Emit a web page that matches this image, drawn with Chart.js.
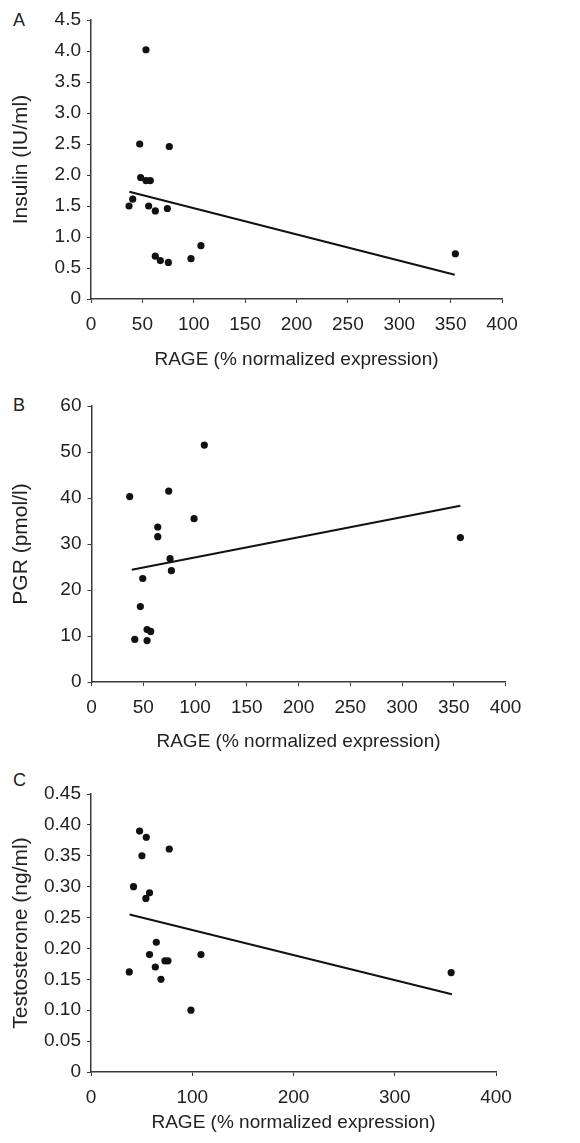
<!DOCTYPE html>
<html>
<head>
<meta charset="utf-8">
<script src="https://cdn.jsdelivr.net/npm/chart.js@4.4.1/dist/chart.umd.min.js"></script>
<style>
  html, body { margin: 0; padding: 0; background: #fff; overflow: hidden; }
  body { width: 580px; height: 1143px; position: relative; font-family: "Liberation Sans", Arial, sans-serif; }
  canvas { position: absolute; left: 0; }
  .panel-label { position: absolute; left: 13px; font-size: 18px; line-height: 18px; color: #222; }
</style>
</head>
<body>
<div class="panel-label" style="top:10.5px">A</div>
<div class="panel-label" style="top:395.5px">B</div>
<div class="panel-label" style="top:770.5px">C</div>
<canvas id="chartA" width="580" height="380" style="top:0px"></canvas>
<canvas id="chartB" width="580" height="380" style="top:380px"></canvas>
<canvas id="chartC" width="580" height="383" style="top:760px"></canvas>
<script>
// Panel A - insulin
const rageA = [37, 40.6, 47.4, 48.3, 53.5, 53.5, 56.1, 57.7, 62.6, 62.6, 67.5, 74.3, 75.3, 76.2, 97.3, 107, 354.6];
const insulin = [1.50, 1.61, 2.50, 1.96, 4.02, 1.91, 1.50, 1.91, 1.42, 0.69, 0.62, 1.46, 0.59, 2.46, 0.65, 0.86, 0.73];
const fitA_x = [37.3, 354];
const fitA_y = [1.73, 0.39];

// Panel B - PGR
const rageB = [36.9, 41.8, 47.2, 49.5, 53.7, 53.7, 57.2, 64, 64, 74.6, 75.9, 77.2, 99.1, 109, 356.4];
const pgr = [40.3, 9.25, 16.4, 22.5, 11.4, 9.0, 11.0, 33.7, 31.6, 41.5, 26.8, 24.2, 35.5, 51.5, 31.4];
const fitB_x = [38.9, 356.4];
const fitB_y = [24.4, 38.3];

// Panel C - testosterone
const rageC = [37.8, 42, 48, 50.3, 54.2, 54.6, 57.8, 57.8, 63.5, 64.5, 69.1, 73, 76, 77.3, 98.7, 108.6, 355.7];
const testosterone = [0.162, 0.30, 0.39, 0.35, 0.281, 0.38, 0.29, 0.19, 0.17, 0.21, 0.15, 0.18, 0.18, 0.361, 0.10, 0.19, 0.161];
const fitC_x = [38.1, 356.4];
const fitC_y = [0.255, 0.126];

const xTitle = "RAGE (% normalized expression)";

function toPoints(xs, ys) {
  return xs.map((x, i) => ({ x: x, y: ys[i] }));
}

function makeChart(id, opts) {
  const ctx = document.getElementById(id).getContext("2d");
  const axisColor = "#3a3a3a";
  return new Chart(ctx, {
    type: "scatter",
    data: {
      datasets: [{
        data: toPoints(opts.xs, opts.ys),
        backgroundColor: "#111",
        borderColor: "#111",
        pointRadius: 3.6,
        pointBorderWidth: 0
      }, {
        data: toPoints(opts.fitX, opts.fitY),
        showLine: true,
        borderColor: "#111",
        borderWidth: 2,
        pointRadius: 0,
        fill: false
      }]
    },
    options: {
      responsive: false,
      animation: false,
      events: [],
      layout: { padding: { top: opts.top, right: opts.right, left: 0, bottom: 0 } },
      plugins: { legend: { display: false }, tooltip: { enabled: false } },
      scales: {
        x: {
          type: "linear",
          min: 0, max: 400,
          ticks: { stepSize: opts.xStep, color: "#222", font: { family: "Liberation Sans", size: 19 }, padding: 10, maxRotation: 0 },
          grid: { drawOnChartArea: false, drawTicks: true, tickLength: 4, color: axisColor, lineWidth: 1 },
          border: { display: true, color: axisColor, width: 1.5 },
          title: { display: true, text: xTitle, color: "#222", font: { family: "Liberation Sans", size: 19 }, padding: { top: 0, bottom: opts.xTitlePad } },
          afterFit: function (scale) { scale.height = opts.axisH; }
        },
        y: {
          type: "linear",
          min: 0, max: opts.yMax,
          ticks: {
            stepSize: opts.yStep, color: "#222", font: { family: "Liberation Sans", size: 19 }, padding: 6,
            callback: function (v) { return v === 0 ? "0" : v.toFixed(opts.dec); }
          },
          grid: { drawOnChartArea: false, drawTicks: true, tickLength: 4, color: axisColor, lineWidth: 1 },
          border: { display: true, color: axisColor, width: 1.5 },
          title: { display: true, text: opts.yTitle, color: "#222", font: { family: "Liberation Sans", size: 21 }, padding: { top: 9, bottom: 0 } },
          afterFit: function (scale) { scale.width = opts.left; }
        }
      }
    }
  });
}

makeChart("chartA", {
  xs: rageA, ys: insulin, fitX: fitA_x, fitY: fitA_y,
  yMax: 4.5, yStep: 0.5, dec: 1, xStep: 50, yTitle: "Insulin (IU/ml)",
  top: 20, right: 78, left: 91, axisH: 81, xTitlePad: 8.6
});
makeChart("chartB", {
  xs: rageB, ys: pgr, fitX: fitB_x, fitY: fitB_y,
  yMax: 60, yStep: 10, dec: 0, xStep: 50, yTitle: "PGR (pmol/l)",
  top: 26, right: 74.5, left: 91.5, axisH: 78, xTitlePad: 6.9
});
makeChart("chartC", {
  xs: rageC, ys: testosterone, fitX: fitC_x, fitY: fitC_y,
  yMax: 0.45, yStep: 0.05, dec: 2, xStep: 100, yTitle: "Testosterone (ng/ml)",
  top: 34, right: 84, left: 91, axisH: 71, xTitlePad: 8.6
});
</script>
</body>
</html>
